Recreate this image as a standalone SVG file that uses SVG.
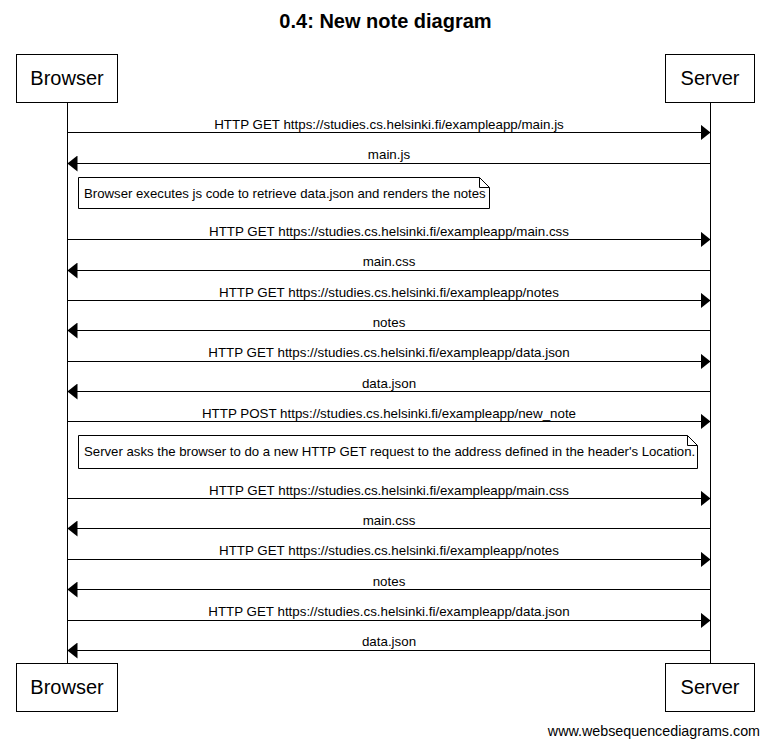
<svg xmlns="http://www.w3.org/2000/svg" width="769" height="747" viewBox="0 0 769 747">
<style>
text{font-family:"Liberation Sans",Arial,sans-serif;fill:#000}
.title{font-size:20px;font-weight:bold;text-anchor:middle}
.part{font-size:20px;text-anchor:middle}
.lbl{font-size:13.35px;text-anchor:middle}
.note{font-size:13.2px}
.box{fill:#fff;stroke:#000;stroke-width:1}
.line{stroke:#000;stroke-width:1;fill:none}
.foot{font-size:14.3px;text-anchor:end}
</style>
<defs>
<marker id="ah" markerWidth="10" markerHeight="16" refX="10" refY="8" orient="auto" markerUnits="userSpaceOnUse">
<path d="M0,0 L10,8 L0,16 Z" fill="#000"/>
</marker>
</defs>
<rect width="769" height="747" fill="#fff"/>
<text class="title" x="385.5" y="28">0.4: New note diagram</text>
<g id="lifelines">
<line class="line" x1="67.5" y1="102" x2="67.5" y2="663"/>
<line class="line" x1="710.5" y1="102" x2="710.5" y2="663"/>
</g>
<g id="browser-top"><rect class="box" x="16.5" y="54.5" width="101" height="48"/><text class="part" x="67" y="85">Browser</text></g>
<g id="server-top"><rect class="box" x="665.5" y="54.5" width="89" height="48"/><text class="part" x="710" y="85">Server</text></g>
<g id="browser-bottom"><rect class="box" x="16.5" y="663.5" width="101" height="48"/><text class="part" x="67" y="694">Browser</text></g>
<g id="server-bottom"><rect class="box" x="665.5" y="663.5" width="89" height="48"/><text class="part" x="710" y="694">Server</text></g>
<g id="connectors">
<line class="line" x1="67.5" y1="132.5" x2="710.5" y2="132.5" marker-end="url(#ah)"/>
<text class="lbl" x="389" y="129">HTTP GET https://studies.cs.helsinki.fi/exampleapp/main.js</text>
<line class="line" x1="710.5" y1="163.5" x2="67.5" y2="163.5" marker-end="url(#ah)"/>
<text class="lbl" x="389" y="159">main.js</text>
<line class="line" x1="67.5" y1="239.5" x2="710.5" y2="239.5" marker-end="url(#ah)"/>
<text class="lbl" x="389" y="236">HTTP GET https://studies.cs.helsinki.fi/exampleapp/main.css</text>
<line class="line" x1="710.5" y1="270.5" x2="67.5" y2="270.5" marker-end="url(#ah)"/>
<text class="lbl" x="389" y="266">main.css</text>
<line class="line" x1="67.5" y1="300.5" x2="710.5" y2="300.5" marker-end="url(#ah)"/>
<text class="lbl" x="389" y="297">HTTP GET https://studies.cs.helsinki.fi/exampleapp/notes</text>
<line class="line" x1="710.5" y1="330.5" x2="67.5" y2="330.5" marker-end="url(#ah)"/>
<text class="lbl" x="389" y="327">notes</text>
<line class="line" x1="67.5" y1="361.5" x2="710.5" y2="361.5" marker-end="url(#ah)"/>
<text class="lbl" x="389" y="357">HTTP GET https://studies.cs.helsinki.fi/exampleapp/data.json</text>
<line class="line" x1="710.5" y1="391.5" x2="67.5" y2="391.5" marker-end="url(#ah)"/>
<text class="lbl" x="389" y="388">data.json</text>
<line class="line" x1="67.5" y1="421.5" x2="710.5" y2="421.5" marker-end="url(#ah)"/>
<text class="lbl" x="389" y="418">HTTP POST https://studies.cs.helsinki.fi/exampleapp/new_note</text>
<line class="line" x1="67.5" y1="498.5" x2="710.5" y2="498.5" marker-end="url(#ah)"/>
<text class="lbl" x="389" y="495">HTTP GET https://studies.cs.helsinki.fi/exampleapp/main.css</text>
<line class="line" x1="710.5" y1="528.5" x2="67.5" y2="528.5" marker-end="url(#ah)"/>
<text class="lbl" x="389" y="525">main.css</text>
<line class="line" x1="67.5" y1="559.5" x2="710.5" y2="559.5" marker-end="url(#ah)"/>
<text class="lbl" x="389" y="555">HTTP GET https://studies.cs.helsinki.fi/exampleapp/notes</text>
<line class="line" x1="710.5" y1="589.5" x2="67.5" y2="589.5" marker-end="url(#ah)"/>
<text class="lbl" x="389" y="586">notes</text>
<line class="line" x1="67.5" y1="620.5" x2="710.5" y2="620.5" marker-end="url(#ah)"/>
<text class="lbl" x="389" y="616">HTTP GET https://studies.cs.helsinki.fi/exampleapp/data.json</text>
<line class="line" x1="710.5" y1="650.5" x2="67.5" y2="650.5" marker-end="url(#ah)"/>
<text class="lbl" x="389" y="646">data.json</text>
</g>
<g id="note1">
<path class="box" d="M78.5,177.5 H479.5 L489.5,187.5 V208.5 H78.5 Z"/>
<path class="line" d="M479.5,177.5 V187.5 H489.5"/>
<text class="note" x="84" y="198">Browser executes js code to retrieve data.json and renders the notes</text>
</g>
<g id="note2">
<path class="box" d="M78.5,435.5 H687.5 L697.5,445.5 V468.5 H78.5 Z"/>
<path class="line" d="M687.5,435.5 V445.5 H697.5"/>
<text class="note" x="84" y="456">Server asks the browser to do a new HTTP GET request to the address defined in the header's Location.</text>
</g>
<text class="foot" x="760" y="736">www.websequencediagrams.com</text>
</svg>
